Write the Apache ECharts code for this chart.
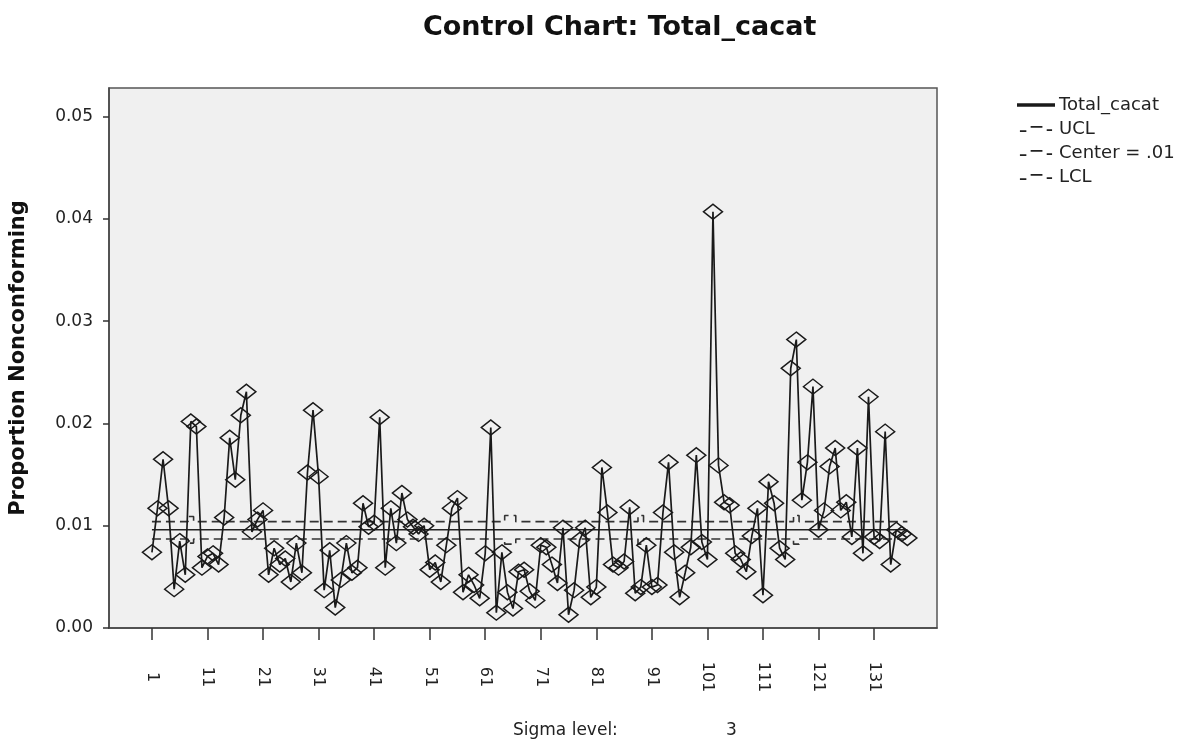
<!DOCTYPE html>
<html>
<head>
<meta charset="utf-8">
<title>Control Chart: Total_cacat</title>
<script src="https://cdn.jsdelivr.net/npm/echarts@6/dist/echarts.min.js"></script>
<style>
  html, body { margin: 0; padding: 0; background: #fff; }
  #chart { width: 1190px; height: 747px; }
</style>
</head>
<body>
<div id="chart"></div>
<script>
// p-chart 数据
var pValues = [
  0.0074, 0.0117, 0.0165, 0.0117, 0.0038, 0.0085, 0.0052, 0.0202, 0.0197, 0.0059,
  0.0070, 0.0073, 0.0062, 0.0108, 0.0186, 0.0145, 0.0208, 0.0231, 0.0094, 0.0106,
  0.0115, 0.0052, 0.0078, 0.0062, 0.0068, 0.0045, 0.0083, 0.0054, 0.0152, 0.0213,
  0.0148, 0.0037, 0.0076, 0.0020, 0.0047, 0.0083, 0.0054, 0.0059, 0.0122, 0.0099,
  0.0103, 0.0206, 0.0059, 0.0117, 0.0083, 0.0132, 0.0106, 0.0099, 0.0092, 0.0100,
  0.0057, 0.0064, 0.0045, 0.0081, 0.0117, 0.0127, 0.0035, 0.0052, 0.0042, 0.0029,
  0.0073, 0.0196, 0.0015, 0.0074, 0.0035, 0.0019, 0.0055, 0.0057, 0.0036, 0.0027,
  0.0081, 0.0079, 0.0062, 0.0044, 0.0098, 0.0013, 0.0037, 0.0086, 0.0098, 0.0030,
  0.0040, 0.0157, 0.0113, 0.0062, 0.0059, 0.0065, 0.0118, 0.0034, 0.0040, 0.0081,
  0.0040, 0.0042, 0.0113, 0.0162, 0.0074, 0.0030, 0.0054, 0.0079, 0.0169, 0.0084,
  0.0067, 0.0407, 0.0159, 0.0123, 0.0120, 0.0073, 0.0067, 0.0055, 0.0090, 0.0117,
  0.0032, 0.0143, 0.0122, 0.0078, 0.0067, 0.0254, 0.0282, 0.0125, 0.0162, 0.0236,
  0.0096, 0.0115, 0.0158, 0.0176, 0.0115, 0.0123, 0.0089, 0.0176, 0.0073, 0.0226,
  0.0089, 0.0085, 0.0192, 0.0062, 0.0096, 0.0092, 0.0088
];
// 控制限：[起始样本号, 值]
var uclSteps = [[1, 0.0104], [8, 0.0109], [9, 0.0104], [65, 0.0110], [67, 0.0104],
                [89, 0.0110], [90, 0.0104], [117, 0.0110], [118, 0.0104]];
var lclSteps = [[1, 0.0087], [8, 0.0083], [9, 0.0087], [65, 0.0082], [67, 0.0087],
                [89, 0.0082], [90, 0.0087], [117, 0.0082], [118, 0.0087]];
var centerValue = 0.0096;
var xTickLabels = [1, 11, 21, 31, 41, 51, 61, 71, 81, 91, 101, 111, 121, 131];
var yTicks = [0, 0.01, 0.02, 0.03, 0.04, 0.05];
var sigmaLevel = 3;

function expandSteps(steps, n) {
  var out = [];
  for (var i = 1; i <= n; i++) {
    var v = steps[0][1];
    for (var k = 0; k < steps.length; k++) {
      if (i >= steps[k][0]) v = steps[k][1];
    }
    out.push([i, v]);
  }
  return out;
}

var n = pValues.length;
var pData = pValues.map(function (v, i) { return [i + 1, v]; });
var uclData = expandSteps(uclSteps, n);
var lclData = expandSteps(lclSteps, n);
var centerData = [[1, centerValue], [n, centerValue]];

// 图例图标（实线 / 虚线）
var iconSolid = 'path://M0,3h36v1.6h-36z';
var iconDash = 'path://M0,4h6v1.6h-6z M10,0h11v1.6h-11z M25,3h5v1.6h-5z';
var FONT = 'DejaVu Sans';

var myChart = echarts.init(document.getElementById('chart'));
var option = {
  backgroundColor: '#fff',
  animation: false,
  title: {
    text: 'Control Chart: Total_cacat',
    left: 418,
    top: 9,
    textStyle: { fontFamily: FONT, fontSize: 27, fontWeight: 'bold', color: '#111' }
  },
  legend: {
    orient: 'vertical',
    left: 1012,
    top: 91,
    itemWidth: 36,
    itemHeight: 6,
    itemGap: 6,
    textStyle: { fontFamily: FONT, fontSize: 18, color: '#222', padding: [0, 0, 0, 0] },
    data: [
      { name: 'Total_cacat', icon: iconSolid },
      { name: 'UCL', icon: iconDash },
      { name: 'Center = .01', icon: iconDash },
      { name: 'LCL', icon: iconDash }
    ],
    itemStyle: { color: '#222' }
  },
  grid: {
    left: 108, top: 88, width: 829, height: 540,
    show: true,
    backgroundColor: '#f0f0f0',
    borderColor: '#555',
    borderWidth: 1.5
  },
  xAxis: {
    type: 'value',
    min: -6.73,
    max: 142.33,
    splitLine: { show: false },
    axisLine: { onZero: false, lineStyle: { color: '#444', width: 1.5 } },
    axisTick: { show: true, customValues: xTickLabels, length: 12, lineStyle: { color: '#333', width: 1.5 } },
    axisLabel: {
      customValues: xTickLabels,
      rotate: -90,
      align: 'center',
      verticalAlign: 'middle',
      margin: 49,
      fontFamily: FONT,
      fontSize: 16,
      color: '#222'
    }
  },
  yAxis: {
    type: 'value',
    min: 0,
    max: 0.0528,
    name: 'Proportion Nonconforming',
    nameLocation: 'middle',
    nameGap: 80,
    nameTextStyle: { fontFamily: FONT, fontSize: 21, fontWeight: 'bold', color: '#111' },
    splitLine: { show: false },
    axisLine: { show: true, onZero: false, lineStyle: { color: '#444', width: 1.5 } },
    axisTick: { show: true, customValues: yTicks, length: 6, lineStyle: { color: '#333', width: 1.5 } },
    axisLabel: {
      customValues: yTicks,
      margin: 16,
      fontFamily: FONT,
      fontSize: 17,
      color: '#222',
      formatter: function (v) { return v.toFixed(2); }
    }
  },
  graphic: [
    {
      type: 'text', left: 513, top: 722,
      style: { text: 'Sigma level:', fontFamily: FONT, fontSize: 17, fill: '#222' }
    },
    {
      type: 'text', left: 726, top: 722,
      style: { text: String(sigmaLevel), fontFamily: FONT, fontSize: 17, fill: '#222' }
    }
  ],
  series: [
    {
      name: 'UCL', type: 'line', step: 'middle', data: uclData, symbol: 'none', z: 2,
      lineStyle: { color: '#333', width: 1.6, type: [9, 5] }, itemStyle: { color: '#222' }
    },
    {
      name: 'Center = .01', type: 'line', data: centerData, symbol: 'none', z: 2,
      lineStyle: { color: '#222', width: 1.4 }, itemStyle: { color: '#222' }
    },
    {
      name: 'LCL', type: 'line', step: 'middle', data: lclData, symbol: 'none', z: 2,
      lineStyle: { color: '#333', width: 1.6, type: [9, 5] }, itemStyle: { color: '#222' }
    },
    {
      name: 'Total_cacat', type: 'line', data: pData, z: 3,
      symbol: 'diamond', symbolSize: [19, 15],
      lineStyle: { color: '#1a1a1a', width: 1.7 },
      itemStyle: { color: 'rgba(0,0,0,0)', borderColor: '#1a1a1a', borderWidth: 1.5 }
    }
  ]
};
myChart.setOption(option);
</script>
</body>
</html>
